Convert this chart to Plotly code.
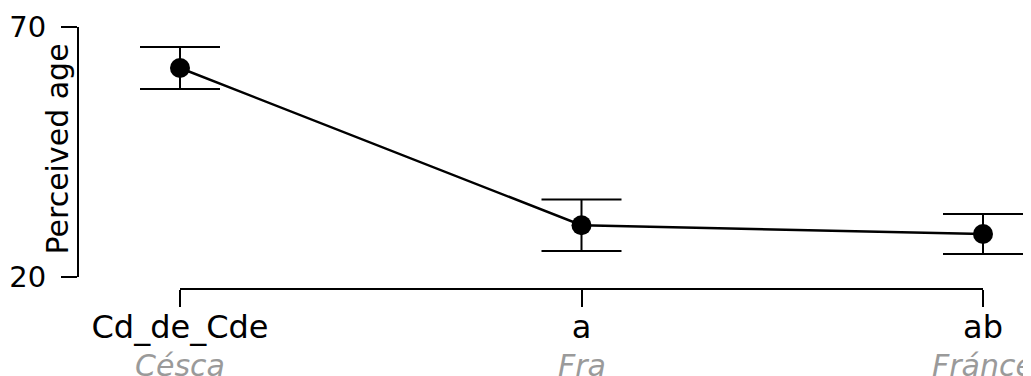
import plotly.graph_objects as go

# data
categories = ["Cd_de_Cde", "a", "ab"]
sublabels = ["Césca", "Fra", "Fránce"]
means = [61.8, 30.35, 28.6]
errors = [4.2, 5.15, 4.0]
y_ticks = [20, 70]

W, H = 1031, 376
font = "DejaVu Sans"
OFF = 8  # page body margin


def px(x):
    return (x - OFF) / W


def py(y):
    return (H - (y - OFF)) / H


# category 0 sits at x=180, last one at x=983 (page pixels)
pad = 0.12
unit = (983 - 180) / (len(categories) - 1)
x_lo = 180 - pad * unit
x_hi = 983 + pad * unit

fig = go.Figure()
fig.add_trace(go.Scatter(
    x=list(range(len(categories))), y=means,
    mode="lines+markers",
    line=dict(color="black", width=2.5),
    marker=dict(color="black", size=20),
    error_y=dict(type="data", array=errors, color="black", thickness=2, width=40),
    cliponaxis=False,
    showlegend=False,
))

# x axis line only between first and last category
fig.add_shape(type="line", xref="x", yref="paper",
              x0=0, x1=len(categories) - 1, y0=py(289), y1=py(289),
              line=dict(color="black", width=2))

# grey italic second line under each category
for i, sub in enumerate(sublabels):
    fig.add_annotation(
        x=i, xref="x", y=py(365), yref="paper",
        text="<i>" + sub + "</i>", showarrow=False,
        xanchor="center", yanchor="middle",
        font=dict(family=font, size=30, color="#9a9a9a"),
    )

fig.add_annotation(
    x=px(56.5), xref="paper", y=py(149), yref="paper",
    text="Perceived age", textangle=-90, showarrow=False,
    xanchor="center", yanchor="middle",
    font=dict(family=font, size=30, color="black"),
)

fig.update_layout(
    width=W, height=H,
    margin=dict(l=0, r=0, t=0, b=0, autoexpand=False),
    paper_bgcolor="white", plot_bgcolor="white",
    font=dict(family=font, size=30, color="black"),
    xaxis=dict(
        range=[-pad, len(categories) - 1 + pad],
        domain=[px(x_lo), px(x_hi)],
        anchor="free", position=py(289),
        automargin=False,
        tickvals=list(range(len(categories))), ticktext=categories,
        showline=False,
        ticks="outside", ticklen=17, tickwidth=2, tickcolor="black",
        ticklabelstandoff=-7,
        showgrid=False, zeroline=False,
        tickfont=dict(family=font, size=32, color="black"),
    ),
    yaxis=dict(
        range=[20, 70],
        domain=[py(277), py(27)],
        anchor="free", position=px(78),
        automargin=False,
        tickvals=y_ticks,
        showline=True, linecolor="black", linewidth=2,
        ticks="outside", ticklen=16, tickwidth=2, tickcolor="black",
        ticklabelstandoff=9,
        showgrid=False, zeroline=False,
        tickfont=dict(family=font, size=29, color="black"),
    ),
)

fig.write_html("out.html")
